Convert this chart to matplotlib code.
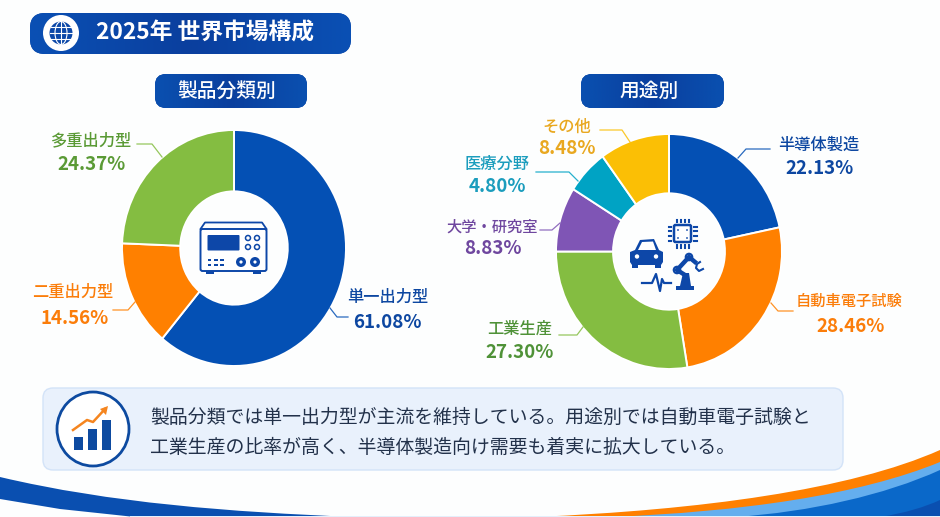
import numpy as np
import matplotlib
matplotlib.use("Agg")
import matplotlib.pyplot as plt
from matplotlib.patches import Circle, Ellipse, FancyBboxPatch, PathPatch, Polygon, Rectangle
from matplotlib.path import Path

plt.rcParams['font.family'] = ['Noto Sans CJK JP', 'DejaVu Sans']

W, H = 940, 517

BLUE = '#0450b4'
NAVY = '#0b3f9c'
ORANGE = '#ff8000'
GREEN = '#84bd41'
PURPLE = '#7f55b5'
TEAL = '#00a3c4'
YELLOW = '#fbbf05'

title = '2025年 世界市場構成'
left_title = '製品分類別'
right_title = '用途別'
summary_lines = ['製品分類では単一出力型が主流を維持している。用途別では自動車電子試験と',
                 '工業生産の比率が高く、半導体製造向け需要も着実に拡大している。']

product_names = ['単一出力型', '二重出力型', '多重出力型']
product_values = [61.08, 14.56, 24.37]
product_colors = [BLUE, ORANGE, GREEN]
product_text = ['#0d47a1', '#fb7d0a', '#5a9a35']

use_names = ['半導体製造', '自動車電子試験', '工業生産', '大学・研究室', '医療分野', 'その他']
use_values = [22.13, 28.46, 27.30, 8.83, 4.80, 8.48]
# slices in the picture are not quite the printed numbers, these are as drawn
use_drawn = [21.7, 25.7, 27.6, 8.9, 6.1, 10.0]
use_colors = [BLUE, ORANGE, GREEN, PURPLE, TEAL, YELLOW]
use_text = ['#0d47a1', '#fb7d0a', '#4f9238', '#6f479f', '#1b9dbd', '#e9a820']

fig = plt.figure(figsize=(W / 100, H / 100), dpi=100, facecolor='#fdfefe')


def donut(cx, cy, rx, ry, values, colors, hole):
    ax = fig.add_axes([(cx - rx) / W, 1 - (cy + ry) / H, 2 * rx / W, 2 * ry / H], zorder=1)
    ax.pie(values, colors=colors, startangle=90, counterclock=False, radius=1,
           wedgeprops=dict(width=1 - hole, edgecolor='white', linewidth=1.4))
    ax.set_aspect('auto')
    ax.set_xlim(-1, 1)
    ax.set_ylim(-1, 1)
    return ax


donut(234, 248, 112, 118, product_values, product_colors, 0.48)
donut(669, 251.5, 113, 117.5, use_drawn, use_colors, 0.495)

# everything else goes on one pixel-coordinate layer
ov = fig.add_axes([0, 0, 1, 1], zorder=2)
ov.set_xlim(0, W)
ov.set_ylim(H, 0)
ov.axis('off')
ov.patch.set_alpha(0)


def pill(x0, y0, x1, y1, rad, c0, c1):
    box = FancyBboxPatch((x0 + rad, y0 + rad), x1 - x0 - 2 * rad, y1 - y0 - 2 * rad,
                         boxstyle='round,pad=%f,rounding_size=%f' % (rad, rad),
                         fc=c1, ec='none')
    ov.add_patch(box)
    grad = np.linspace(0, 1, 256).reshape(1, -1)
    cmap = matplotlib.colors.LinearSegmentedColormap.from_list('p', [c0, c1, c0])
    im = ov.imshow(grad, extent=(x0, x1, y1, y0), cmap=cmap, aspect='auto', zorder=2)
    im.set_clip_path(box)
    ov.set_xlim(0, W)
    ov.set_ylim(H, 0)


pill(30, 13, 351, 54, 15, '#0a50b4', '#0a3f9e')
pill(155, 74, 307, 108, 11, '#0a50b0', '#0a3f9e')
pill(581, 74, 724, 108, 11, '#0a50b0', '#0a3f9e')

ov.text(204.5, 33, title, color='white', fontsize=16.4, fontweight='bold', ha='center', va='center', zorder=5)
ov.text(226.5, 91, left_title, color='white', fontsize=14.2, fontweight='medium', ha='center', va='center', zorder=5)
ov.text(649, 91, right_title, color='white', fontsize=14.2, fontweight='medium', ha='center', va='center', zorder=5)

# globe badge
ov.add_patch(Circle((61, 33), 18, fc='white', ec='none', zorder=4))
ov.add_patch(Circle((61, 33), 11.5, fc='#0b47a8', ec='none', zorder=4))
ov.add_patch(Ellipse((61, 33), 12, 23, fc='none', ec='white', lw=0.8, zorder=5))
for dy in (-6, 0, 6):
    half = np.sqrt(11.5 ** 2 - dy ** 2)
    ov.plot([61 - half, 61 + half], [33 + dy, 33 + dy], color='white', lw=0.8, zorder=5)
ov.plot([61, 61], [21.5, 44.5], color='white', lw=0.8, zorder=5)


def label(x, y, name, x2, y2, value, col, fs=11.7):
    ov.text(x, y, name, color=col, fontsize=fs, fontweight='medium', ha='center', va='center')
    ov.text(x2, y2, '%.2f%%' % value, color=col, fontsize=13.5, fontweight='bold', ha='center', va='center')


# name x/y, value x/y
product_pos = [(388, 297, 387, 322), (73, 292, 75, 318), (91, 141, 92, 165)]
use_pos = [(819, 145, 820, 169), (849, 301, 851, 327), (520, 329, 520, 352),
           (492, 227, 493, 249), (497, 164, 497, 187), (567, 127, 567, 148)]
for nm, val, col, pos in zip(product_names, product_values, product_text, product_pos):
    label(pos[0], pos[1], nm, pos[2], pos[3], val, col)
for nm, val, col, pos in zip(use_names, use_values, use_text, use_pos):
    fs = 11.0 if len(nm) >= 6 else 11.7
    label(pos[0], pos[1], nm, pos[2], pos[3], val, col, fs)

# leader lines
product_leaders = [[(348, 317), (337, 317), (330, 308)],
                   [(113, 310), (128, 310), (135, 302)],
                   [(137, 144), (152, 144), (162, 157)]]
use_leaders = [[(770, 149), (746, 149), (738, 158)],
               [(793, 311), (778, 311), (771, 303)],
               [(559, 335), (577, 335), (583, 327)],
               [(540, 230), (552, 230), (560, 223)],
               [(536, 172), (569, 172), (578, 181)],
               [(600, 130), (622, 130), (630, 142)]]
for pts, col in zip(product_leaders + use_leaders, product_colors + use_colors):
    xs, ys = zip(*pts)
    ov.plot(xs, ys, color=col, lw=0.9, alpha=0.85)

# power supply icon
IC = '#0d47a8'
ov.add_patch(FancyBboxPatch((200.5, 229), 66, 42, boxstyle='round,pad=0,rounding_size=2', fc='white', ec=IC, lw=1.4))
ov.plot([200.5, 205, 262, 266.5], [229, 222.5, 222.5, 229], color=IC, lw=1.3)
ov.add_patch(FancyBboxPatch((207.5, 235), 32, 15.5, boxstyle='round,pad=0,rounding_size=1', fc=IC, ec='none'))
for x in (248, 257):
    for y in (238, 247):
        ov.add_patch(Circle((x, y), 2.5, fc='white', ec=IC, lw=1.1))
for x in (207.5, 214, 220):
    for y in (258.5, 264):
        ov.add_patch(Rectangle((x, y), 3.8, 2, fc=IC, ec='none'))
for x in (241, 255):
    ov.add_patch(Circle((x, 262), 5, fc=IC, ec='none'))
    ov.add_patch(Circle((x, 262), 1.6, fc='white', ec='none'))
for x in (206, 253):
    ov.add_patch(Rectangle((x, 271), 8, 3, fc=IC, ec='none'))

# use icons: chip, car, pulse, robot arm
ov.add_patch(FancyBboxPatch((674, 225), 17, 17, boxstyle='round,pad=0,rounding_size=1.5', fc='white', ec=IC, lw=1.8))
for x, y in [(678, 230), (687, 230), (678, 238), (687, 238)]:
    ov.add_patch(Circle((x, y), 0.9, fc=IC, ec='none'))
for t in (-6, -2, 2, 6):
    ov.plot([682.5 + t, 682.5 + t], [219.5, 222], color=IC, lw=1.5)
    ov.plot([682.5 + t, 682.5 + t], [245, 247.5], color=IC, lw=1.5)
for t in (-7, -2.5, 2.5, 7):
    ov.plot([668.5, 671], [233.5 + t, 233.5 + t], color=IC, lw=1.5)
    ov.plot([694, 696.5], [233.5 + t, 233.5 + t], color=IC, lw=1.5)
ov.add_patch(Polygon([(630, 252), (635, 250), (640, 240), (654, 239), (659, 250), (663, 252),
                      (663, 262), (661, 265), (632, 265), (630, 262)], closed=True, fc=IC, ec='none'))
ov.add_patch(Polygon([(638, 250), (642, 242), (653, 241.5), (656, 250)], closed=True, fc='white', ec='none'))
ov.add_patch(Rectangle((632, 264), 6, 4, fc=IC, ec='none'))
ov.add_patch(Rectangle((655, 264), 6, 4, fc=IC, ec='none'))
ov.add_patch(Circle((637, 256.5), 2.2, fc='white', ec='none'))
ov.add_patch(Circle((656, 256.5), 2.2, fc='white', ec='none'))
ov.plot([642, 652, 656, 660, 662, 664, 671], [283, 283, 274, 291, 279, 283, 283], color=IC, lw=1.6)
ov.add_patch(Rectangle((676, 286), 18, 3.5, fc=IC, ec='none'))
ov.add_patch(Polygon([(680, 286), (683, 273), (689, 273), (691, 286)], closed=True, fc=IC, ec='none'))
ov.plot([685, 677, 689, 695], [275, 270, 257, 262], color=IC, lw=3.2)
for x, y, r in [(677, 270, 3.2), (689, 257, 3.2)]:
    ov.add_patch(Circle((x, y), r, fc='white', ec=IC, lw=1.6))
ov.plot([700, 697, 696, 699, 703], [262, 264, 268, 271, 269], color=IC, lw=1.5)

# summary panel
ov.add_patch(FancyBboxPatch((49, 394), 788, 70, boxstyle='round,pad=6,rounding_size=10',
                            fc='#e9f1fc', ec='#d3e3f8', lw=1, zorder=1))
for i, line in enumerate(summary_lines):
    ov.text(150, 417 + i * 30, line, color='#22314a', fontsize=13.6, ha='left', va='center')
ov.add_patch(Ellipse((93, 429), 72, 74, fc='white', ec='#0d4aa0', lw=2, zorder=3))
for x, y in [(74, 437), (88, 429), (102, 420)]:
    ov.add_patch(Rectangle((x, y), 9, 450 - y, fc='#0d4aa0', ec='none', zorder=4))
ov.plot([73, 87, 93, 105], [430, 420, 422, 409], color='#f5851f', lw=1.8, zorder=5)
ov.add_patch(Polygon([(108, 406), (100, 409), (106, 415)], closed=True, fc='#f5851f', ec='none', zorder=5))


def wave(x0, y0, cx0, cy0, cx1, cy1, x1, y1, back, col, z=1):
    # cubic edge then straight back along the given corner points
    verts = [(x0, y0), (cx0, cy0), (cx1, cy1), (x1, y1)] + back + [(x0, y0)]
    codes = [Path.MOVETO, Path.CURVE4, Path.CURVE4, Path.CURVE4] + [Path.LINETO] * (len(back) + 1)
    ov.add_patch(PathPatch(Path(verts, codes), fc=col, ec='none', zorder=z))


# bottom swooshes
wave(0, 477, 110, 503, 230, 512, 354, 517, [(135, 517), (60, 509), (0, 499)], '#0a4fb0')
wave(535, 517, 700, 510, 850, 490, 940, 450, [(940, 517)], ORANGE)
wave(610, 517, 740, 512, 860, 495, 940, 462, [(940, 517)], '#64aeee', z=2)
wave(735, 517, 810, 512, 885, 495, 940, 470, [(940, 517)], '#0a68c9', z=3)
wave(880, 517, 905, 513, 925, 507, 940, 500, [(940, 517)], '#0a4fb0', z=4)
ov.add_patch(Rectangle((130, 515.5), 810, 2, fc='#e4effb', ec='none', zorder=5))

fig.savefig('out.png', dpi=100, facecolor=fig.get_facecolor())
